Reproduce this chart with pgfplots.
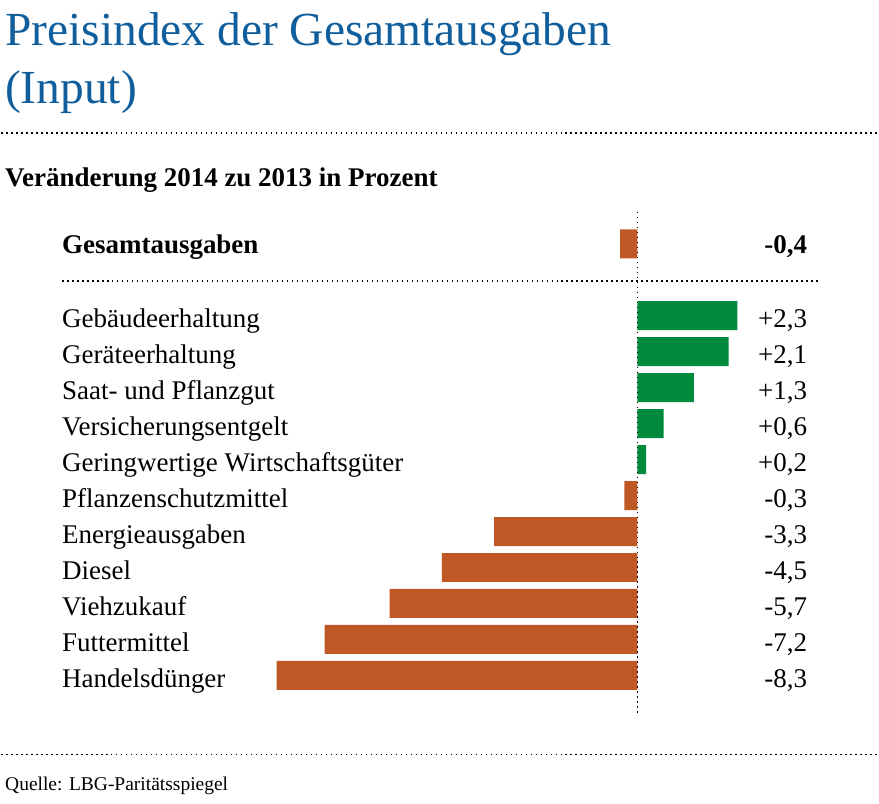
\documentclass[border=0pt]{standalone}
\usepackage{pgfplots}
\pgfplotsset{compat=1.18}
\usepackage{fontspec}
\setmainfont{Liberation Serif}
\definecolor{titleblue}{RGB}{16,94,156}
\definecolor{barorange}{RGB}{192,88,38}
\definecolor{bargreen}{RGB}{0,138,62}
\tikzset{dotline/.style={line width=1.6bp, dash pattern=on 1.6bp off 3.4bp, black}}
\newcommand{\lab}{\fontsize{27bp}{30bp}\selectfont}
\begin{document}
\begin{tikzpicture}
\path (0,0) rectangle (879bp,804bp);
\begin{axis}[
  at={(0,0)}, anchor=south west,
  scale only axis, width=879bp, height=804bp,
  xmin=-14.6667, xmax=5.5402,
  ymin=0, ymax=804, y dir=reverse,
  hide axis, clip=false,
  xbar, bar width=29, bar shift=0pt,
]
\addplot[fill=barorange, draw=none] coordinates {
  (-0.4,244) (-0.3,496) (-3.3,532) (-4.5,568) (-5.7,604) (-7.2,640) (-8.3,676)};
\addplot[fill=bargreen, draw=none] coordinates {
  (2.3,316) (2.1,352) (1.3,388) (0.6,424) (0.2,460)};
\draw[dotline] (axis cs:0,212) -- (axis cs:0,714);
\end{axis}
\begin{scope}[x=1bp, y=-1bp, shift={(0,804bp)}]
  \node[anchor=base west, inner sep=0pt, text=titleblue, font=\fontsize{47.5bp}{58bp}\selectfont] at (5,46) {Preisindex der Gesamtausgaben};
  \node[anchor=base west, inner sep=0pt, text=titleblue, font=\fontsize{47.5bp}{58bp}\selectfont] at (5,104) {(Input)};
  \draw[dotline] (1,133) -- (879,133);
  \node[anchor=base west, inner sep=0pt, font=\fontsize{27bp}{30bp}\selectfont\bfseries] at (5,187) {Veränderung 2014 zu 2013 in Prozent};
  \node[anchor=base west, inner sep=0pt, font=\lab\bfseries] at (62,254) {Gesamtausgaben};
  \node[anchor=base east, inner sep=0pt, font=\lab\bfseries] at (808,254) {-0,4};
  \draw[dotline] (62,281) -- (822,281);
  \foreach \y/\t in {316/Gebäudeerhaltung, 352/Geräteerhaltung, 388/Saat- und Pflanzgut, 424/Versicherungsentgelt, 460/Geringwertige Wirtschaftsgüter, 496/Pflanzenschutzmittel, 532/Energieausgaben, 568/Diesel, 604/Viehzukauf, 640/Futtermittel, 676/Handelsdünger}{
    \node[anchor=base west, inner sep=0pt, font=\lab] at (62,\y+12) {\t};
  }
  \node[anchor=base east, inner sep=0pt, font=\lab] at (808,328) {+2,3};
  \node[anchor=base east, inner sep=0pt, font=\lab] at (808,364) {+2,1};
  \node[anchor=base east, inner sep=0pt, font=\lab] at (808,400) {+1,3};
  \node[anchor=base east, inner sep=0pt, font=\lab] at (808,436) {+0,6};
  \node[anchor=base east, inner sep=0pt, font=\lab] at (808,472) {+0,2};
  \node[anchor=base east, inner sep=0pt, font=\lab] at (808,508) {-0,3};
  \node[anchor=base east, inner sep=0pt, font=\lab] at (808,544) {-3,3};
  \node[anchor=base east, inner sep=0pt, font=\lab] at (808,580) {-4,5};
  \node[anchor=base east, inner sep=0pt, font=\lab] at (808,616) {-5,7};
  \node[anchor=base east, inner sep=0pt, font=\lab] at (808,652) {-7,2};
  \node[anchor=base east, inner sep=0pt, font=\lab] at (808,688) {-8,3};
  \draw[dotline] (1,755) -- (879,755);
  \node[anchor=base west, inner sep=0pt, font=\fontsize{19.5bp}{24bp}\selectfont] at (5,791) {Quelle: LBG-Paritätsspiegel};
\end{scope}
\end{tikzpicture}
\end{document}
